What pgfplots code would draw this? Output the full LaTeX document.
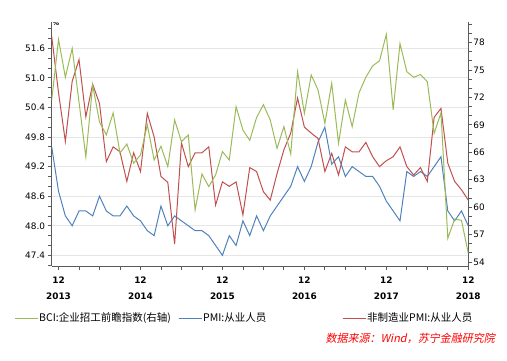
\documentclass[border=0pt]{standalone}
\usepackage{fontspec}
\setmainfont{DejaVu Sans}
\newfontfamily\cjk{Noto Sans CJK SC}
\newfontfamily\cjkit[FakeSlant=0.2]{Noto Sans CJK SC}
\usepackage{pgfplots}
\usepackage{pgfplotstable}
\pgfplotsset{compat=1.18}
\definecolor{bcigreen}{HTML}{9BBB59}
\definecolor{pmiblue}{HTML}{4F81BD}
\definecolor{nmred}{HTML}{C0504D}
\definecolor{axgray}{HTML}{5A5A5A}
\definecolor{gridgray}{HTML}{E6E6E6}
% month index: 0 = Dec 2013, 60 = Dec 2018
\pgfplotstableread{
m bci pmi nm
-1 71.7 49.6 51.84
0 78.35 48.7 50.7
1 74.2 48.2 49.71
2 77.36 48.0 50.93
3 71.5 48.3 51.37
4 65.5 48.3 50.21
5 73.35 48.2 50.87
6 69.3 48.6 50.48
7 67.9 48.3 49.3
8 70.3 48.2 49.6
9 65.9 48.2 49.5
10 66.9 48.4 48.9
11 64.8 48.2 49.48
12 65.7 48.1 49.1
13 69.0 47.9 50.28
14 65.15 47.8 49.8
15 66.65 48.4 49.0
16 64.43 48.0 48.88
17 69.53 48.2 47.63
18 67.16 48.1 49.68
19 67.89 48.0 49.2
20 59.69 47.9 49.48
21 63.62 47.9 49.48
22 62.24 47.8 49.6
23 63.52 47.6 48.42
24 66.07 47.4 48.89
25 65.15 47.8 48.8
26 70.98 47.6 48.89
27 68.43 48.1 48.22
28 67.3 47.8 49.18
29 69.8 48.2 49.1
30 71.2 47.9 48.69
31 69.53 48.2 48.52
32 66.43 48.4 49.06
33 68.8 48.6 49.54
34 65.8 48.8 49.88
35 74.81 49.2 50.59
36 70.26 48.9 50.0
37 74.45 49.2 49.88
38 72.81 49.7 49.77
39 69.16 50.0 49.1
40 73.54 49.25 49.47
41 66.98 49.4 49.03
42 71.71 49.0 49.6
43 68.8 49.2 49.5
44 72.5 49.1 49.5
45 74.2 49.0 49.69
46 75.45 49.0 49.4
47 76.0 48.8 49.2
48 78.9 48.5 49.32
49 70.65 48.3 49.4
50 77.88 48.1 49.6
51 74.81 49.1 49.2
52 74.2 49.0 49.03
53 74.5 49.1 49.18
54 73.72 49.0 48.9
55 68.07 49.2 50.2
56 70.3 49.4 50.38
57 56.59 48.3 49.27
58 58.7 48.1 48.9
59 58.55 48.3 48.73
60 54.95 48.0 48.52
}\datatable
\begin{document}
\begin{tikzpicture}
\path[use as bounding box] (-51.7pt,-95pt) rectangle (455.3pt,266pt);
\begin{axis}[
  at={(0pt,0pt)}, anchor=south west, scale only axis,
  width=416.6pt, height=243.7pt,
  xmin=-1, xmax=60, ymin=47.184, ymax=52.127,
  axis x line*=bottom, axis y line*=left,
  axis line style={draw=axgray, line width=0.9pt, -},
  xtick={0,12,24,36,48,60},
  xticklabels={12\\2013,12\\2014,12\\2015,12\\2016,12\\2017,12\\2018},
  minor xtick={3,6,9,15,18,21,27,30,33,39,42,45,51,54,57},
  ytick={47.4,48.0,48.6,49.2,49.8,50.4,51.0,51.6},
  minor ytick={47.2,47.6,47.8,48.2,48.4,48.8,49.0,49.4,49.6,50.0,50.2,50.6,50.8,51.2,51.4,51.8,52.0},
  tick align=outside, major tick length=4pt, minor tick length=4pt,
  tick style={draw=axgray, line width=0.8pt},
  ymajorgrids, grid style={draw=gridgray, line width=0.8pt},
  yticklabel style={/pgf/number format/fixed, /pgf/number format/fixed zerofill,
    /pgf/number format/precision=1, /pgf/number format/assume math mode=true,
    font=\fontsize{8.9}{10}\selectfont, inner sep=1pt, xshift=-1.5pt},
  xticklabel style={align=center, font=\bfseries\fontsize{8.9}{16.4}\selectfont, inner sep=1pt, yshift=-5.5pt},
  legend columns=3, legend cell align=left,
  legend image code/.code={\draw[#1] (0pt,0pt) -- (23pt,0pt);},
  legend style={at={(axis description cs:-0.0905,-0.2134)}, anchor=west, draw=none, fill=none,
    inner sep=0pt, nodes={inner sep=1pt}, font=\cjk\fontsize{10.5}{12}\selectfont,
    /tikz/every even column/.style={column sep=0pt}},
]
\addlegendimage{bcigreen, line width=1pt}
\addlegendentry{\makebox[138pt][l]{BCI:企业招工前瞻指数(右轴)}}
\addplot[pmiblue, line width=1pt, no markers] table[x=m, y=pmi] {\datatable};
\addlegendentry{\makebox[138pt][l]{PMI:从业人员}}
\addplot[nmred, line width=1pt, no markers] table[x=m, y=nm] {\datatable};
\addlegendentry{非制造业PMI:从业人员}
\node[anchor=west, inner sep=0pt, font=\bfseries\fontsize{6.5}{7}\selectfont] at (rel axis cs:0.002,0.995) {\%};
\end{axis}
\begin{axis}[
  at={(0pt,0pt)}, anchor=south west, scale only axis,
  width=416.6pt, height=243.7pt,
  xmin=-1, xmax=60, ymin=53.56, ymax=80.21,
  axis x line=none, axis y line*=right,
  axis line style={draw=axgray, line width=0.9pt, -},
  xtick=\empty,
  ytick={54,57,60,63,66,69,72,75,78},
  minor ytick={55,56,58,59,61,62,64,65,67,68,70,71,73,74,76,77,79,80},
  tick align=outside, major tick length=4pt, minor tick length=4pt,
  tick style={draw=axgray, line width=0.8pt},
  yticklabel style={font=\fontsize{8.9}{10}\selectfont, inner sep=1pt, /pgf/number format/assume math mode=true},
]
\addplot[bcigreen, line width=1pt, no markers] table[x=m, y=bci] {\datatable};
\end{axis}
\node[anchor=east, inner sep=0pt, text=red, font=\cjkit\fontsize{11}{12}\selectfont] at (443.3pt,-72pt) {数据来源：Wind，苏宁金融研究院};
\end{tikzpicture}
\end{document}
